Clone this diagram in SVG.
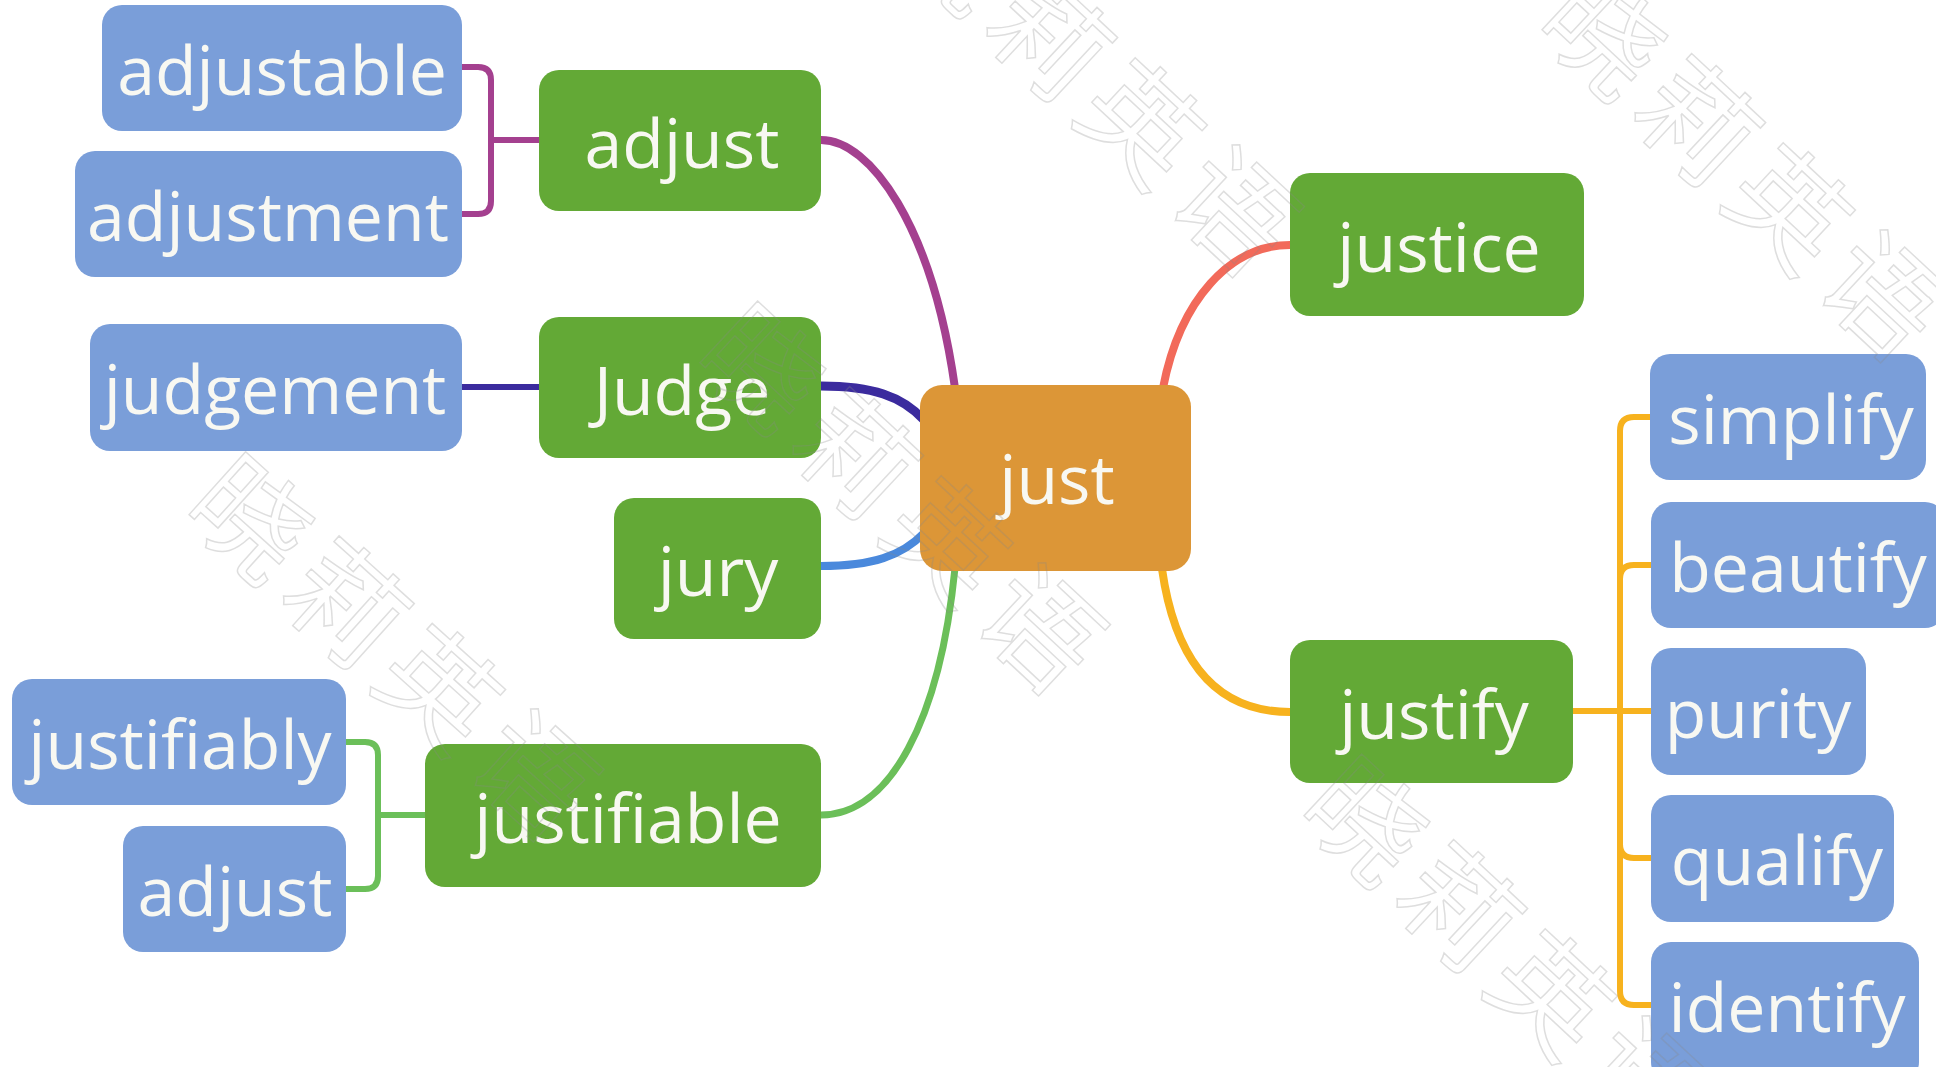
<svg xmlns="http://www.w3.org/2000/svg" width="1936" height="1067" viewBox="0 0 1936 1067">
<style>
  .lbl { font-family: "Open Sans", "Noto Sans", "Liberation Sans", sans-serif; font-size: 68px; fill: #F8F8F2; text-anchor: middle; }
  .green { fill: #63A936; }
  .blue { fill: #7A9ED9; }
  .orange { fill: #DC9637; }
  .c { fill: none; stroke-linecap: round; stroke-linejoin: round; }
  .wm { font-family: "Noto Sans CJK SC", sans-serif; font-size: 115px; letter-spacing: 12px; fill: none; stroke: #8a8a8a; stroke-opacity: 0.28; stroke-width: 1.5; }
</style>
<rect width="1936" height="1067" fill="#ffffff"/>

<g id="connectors">
  <path class="c" stroke="#A4408F" stroke-width="6" d="M539,140 H491 M462,67 H478 Q491,67 491,80 V201 Q491,214 478,214 H462"/>
  <path class="c" stroke="#A4408F" stroke-width="8" d="M821,140 C870,140 932,225 955,388"/>
  <path class="c" stroke="#3B2B9E" stroke-width="6" d="M462,387 H539"/>
  <path class="c" stroke="#3B2B9E" stroke-width="9" d="M821,386 C872,386 902,396 924,420"/>
  <path class="c" stroke="#4A89DC" stroke-width="8" d="M821,566 C872,566 902,556 924,533"/>
  <path class="c" stroke="#6BBF59" stroke-width="7" d="M821,815 C890,815 940,720 955,568"/>
  <path class="c" stroke="#6BBF59" stroke-width="6" d="M425,815 H378 M346,742 H365 Q378,742 378,755 V876 Q378,889 365,889 H346"/>
  <path class="c" stroke="#F26A5A" stroke-width="8" d="M1290,245 C1230,245 1180,300 1163,388"/>
  <path class="c" stroke="#F7B21E" stroke-width="8" d="M1162,569 C1175,660 1215,712 1290,712"/>
  <path class="c" stroke="#F7B21E" stroke-width="6" d="M1573,711 H1651 M1651,417 H1634 Q1620,417 1620,431 V991 Q1620,1005 1634,1005 H1651 M1620,579 Q1620,565 1634,565 H1651 M1620,844 Q1620,858 1634,858 H1651"/>
</g>

<g id="node-just">
  <rect class="orange" x="920" y="385" width="271" height="186" rx="22"/>
  <text class="lbl" x="1057" y="504">just</text>
</g>

<g id="node-adjust">
  <rect class="green" x="539" y="70" width="282" height="141" rx="20"/>
  <text class="lbl" x="682" y="168">adjust</text>
</g>
<g id="node-adjustable">
  <rect class="blue" x="102" y="5" width="360" height="126" rx="20"/>
  <text class="lbl" x="282" y="95">adjustable</text>
</g>
<g id="node-adjustment">
  <rect class="blue" x="75" y="151" width="387" height="126" rx="20"/>
  <text class="lbl" x="268" y="241">adjustment</text>
</g>

<g id="node-judge">
  <rect class="green" x="539" y="317" width="282" height="141" rx="20"/>
  <text class="lbl" x="682" y="415">Judge</text>
</g>
<g id="node-judgement">
  <rect class="blue" x="90" y="324" width="372" height="127" rx="20"/>
  <text class="lbl" x="275" y="414">judgement</text>
</g>

<g id="node-jury">
  <rect class="green" x="614" y="498" width="207" height="141" rx="20"/>
  <text class="lbl" x="718" y="596">jury</text>
</g>

<g id="node-justifiable">
  <rect class="green" x="425" y="744" width="396" height="143" rx="20"/>
  <text class="lbl" x="628" y="843">justifiable</text>
</g>
<g id="node-justifiably">
  <rect class="blue" x="12" y="679" width="334" height="126" rx="20"/>
  <text class="lbl" x="180" y="769">justifiably</text>
</g>
<g id="node-adjust-2">
  <rect class="blue" x="123" y="826" width="223" height="126" rx="20"/>
  <text class="lbl" x="235" y="916">adjust</text>
</g>

<g id="node-justice">
  <rect class="green" x="1290" y="173" width="294" height="143" rx="20"/>
  <text class="lbl" x="1439" y="272">justice</text>
</g>

<g id="node-justify">
  <rect class="green" x="1290" y="640" width="283" height="143" rx="20"/>
  <text class="lbl" x="1434" y="739">justify</text>
</g>
<g id="node-simplify">
  <rect class="blue" x="1650" y="354" width="276" height="126" rx="20"/>
  <text class="lbl" x="1791" y="444">simplify</text>
</g>
<g id="node-beautify">
  <rect class="blue" x="1651" y="502" width="294" height="126" rx="20"/>
  <text class="lbl" x="1798" y="592">beautify</text>
</g>
<g id="node-purity">
  <rect class="blue" x="1651" y="648" width="215" height="127" rx="20"/>
  <text class="lbl" x="1758" y="738">purity</text>
</g>
<g id="node-qualify">
  <rect class="blue" x="1651" y="795" width="243" height="127" rx="20"/>
  <text class="lbl" x="1777" y="885">qualify</text>
</g>
<g id="node-identify">
  <rect class="blue" x="1651" y="942" width="268" height="140" rx="20"/>
  <text class="lbl" x="1787" y="1032">identify</text>
</g>

<g id="watermark">
  <text class="wm" transform="translate(885,-58) rotate(43)">晓莉英语</text>
  <text class="wm" transform="translate(1533,27) rotate(43)">晓莉英语</text>
  <text class="wm" transform="translate(691,360) rotate(43)">晓莉英语</text>
  <text class="wm" transform="translate(180,512) rotate(42)">晓莉英语</text>
  <text class="wm" transform="translate(1295,813) rotate(43)">晓莉英语</text>
</g>
</svg>
